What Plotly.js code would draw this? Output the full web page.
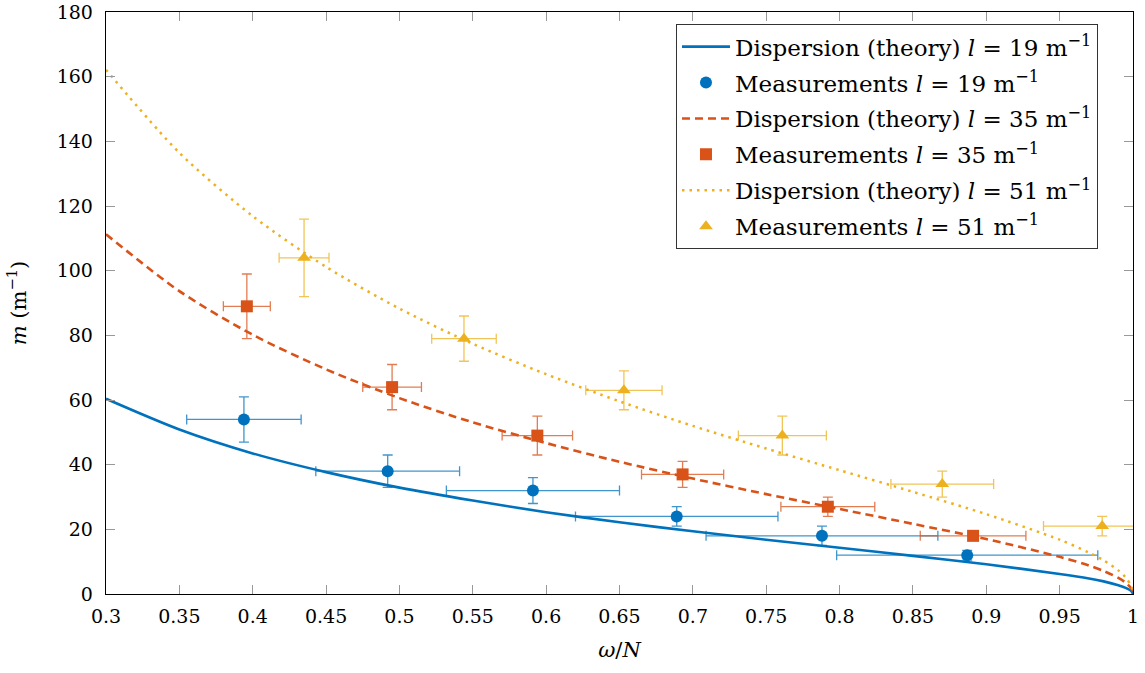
<!DOCTYPE html>
<html>
<head>
<meta charset="utf-8">
<script src="https://cdn.plot.ly/plotly-3.0.1.min.js"></script>
<style>html,body{margin:0;padding:0;background:#fff;}#chart{width:1145px;height:673px;}</style>
</head>
<body>
<div id="chart"></div>
<script>
// Theory curves
const xTheory = [0.30, 0.35, 0.40, 0.45, 0.50, 0.55, 0.60, 0.65, 0.70, 0.75, 0.80, 0.85, 0.90, 0.95, 0.97, 0.98, 0.99, 0.995, 0.999, 1.0];
const theory19 = [60.4, 50.9, 43.5, 37.7, 32.9, 28.9, 25.3, 22.2, 19.4, 16.8, 14.3, 11.8, 9.2, 6.2, 4.8, 3.9, 2.7, 1.9, 0.85, 0];
const theory35 = [111.3, 93.7, 80.2, 69.5, 60.6, 53.1, 46.7, 40.9, 35.7, 30.9, 26.3, 21.7, 17.0, 11.5, 8.8, 7.1, 5.0, 3.5, 1.6, 0];
const theory51 = [162.2, 136.5, 116.9, 101.2, 88.3, 77.4, 68.0, 59.6, 52.0, 45.0, 38.3, 31.6, 24.7, 16.8, 12.8, 10.4, 7.3, 5.1, 2.3, 0];

// Measurements l = 19
const meas19X = [0.394, 0.492, 0.591, 0.689, 0.788, 0.887];
const meas19Y = [54, 38, 32, 24, 18, 12];
const meas19Xerr = [0.039, 0.049, 0.059, 0.069, 0.079, 0.089];
const meas19Yerr = [7, 5, 4, 3, 3, 1.5];

// Measurements l = 35
const meas35X = [0.396, 0.495, 0.594, 0.693, 0.792, 0.891];
const meas35Y = [89, 64, 49, 37, 27, 18];
const meas35Xerr = [0.016, 0.020, 0.024, 0.028, 0.032, 0.036];
const meas35Yerr = [10, 7, 6, 4, 3, 1.5];

// Measurements l = 51
const meas51X = [0.435, 0.544, 0.653, 0.761, 0.870, 0.979];
const meas51Y = [104, 79, 63, 49, 34, 21];
const meas51Xerr = [0.017, 0.022, 0.026, 0.030, 0.035, 0.040];
const meas51Yerr = [12, 7, 6, 6, 4, 3];

const xTicks = [0.3, 0.35, 0.4, 0.45, 0.5, 0.55, 0.6, 0.65, 0.7, 0.75, 0.8, 0.85, 0.9, 0.95, 1];
const xTickText = ['0.3', '0.35', '0.4', '0.45', '0.5', '0.55', '0.6', '0.65', '0.7', '0.75', '0.8', '0.85', '0.9', '0.95', '1'];
const yTicks = [0, 20, 40, 60, 80, 100, 120, 140, 160, 180];
const yTickText = ['0', '20', '40', '60', '80', '100', '120', '140', '160', '180'];

const blue = '#0072BD', orange = '#D95319', yellow = '#EDB120';
const FONT = 'DejaVu Serif';

function theory(x, y, color, dash, width, name, grp) {
  return {x: x, y: y, type: 'scatter', mode: 'lines', name: name, legendgroup: grp,
    line: {color: color, width: width, dash: dash, shape: 'spline', smoothing: 0.8}};
}
function meas(x, y, ex, ey, color, symbol, name, grp) {
  const ec = color + 'C0';
  return {x: x, y: y, type: 'scatter', mode: 'markers', name: name, legendgroup: grp,
    marker: {color: color, symbol: symbol, size: 12},
    error_x: {type: 'data', array: ex, visible: true, color: ec, thickness: 1.3, width: 5},
    error_y: {type: 'data', array: ey, visible: true, color: ec, thickness: 1.3, width: 5}};
}

const traces = [
  theory(xTheory, theory19, blue, 'solid', 2.6, 'Dispersion (theory) <i>l</i> = 19 m<sup>−1</sup>', 'a'),
  meas(meas19X, meas19Y, meas19Xerr, meas19Yerr, blue, 'circle', 'Measurements <i>l</i> = 19 m<sup>−1</sup>', 'b'),
  theory(xTheory, theory35, orange, '8px,5px', 2.6, 'Dispersion (theory) <i>l</i> = 35 m<sup>−1</sup>', 'c'),
  meas(meas35X, meas35Y, meas35Xerr, meas35Yerr, orange, 'square', 'Measurements <i>l</i> = 35 m<sup>−1</sup>', 'd'),
  theory(xTheory, theory51, yellow, '2.5px,5px', 2.5, 'Dispersion (theory) <i>l</i> = 51 m<sup>−1</sup>', 'e'),
  meas(meas51X, meas51Y, meas51Xerr, meas51Yerr, yellow, 'triangle-up', 'Measurements <i>l</i> = 51 m<sup>−1</sup>', 'f')
];

const axisCommon = {
  showgrid: false, zeroline: false, showline: true, linecolor: '#000', linewidth: 1.3,
  mirror: 'ticks', ticks: 'inside', ticklen: 9, tickcolor: '#999', tickwidth: 1,
  tickfont: {family: FONT, size: 19, color: '#000'}
};

const layout = {
  width: 1145, height: 673,
  margin: {l: 106, r: 12, t: 12, b: 79},
  paper_bgcolor: '#fff', plot_bgcolor: '#fff',
  font: {family: FONT, color: '#000', size: 19},
  showlegend: true,
  xaxis: Object.assign({}, axisCommon, {
    range: [0.3, 1], tickvals: xTicks, ticktext: xTickText, ticklabelstandoff: 5,
    title: {text: '<i>ω</i>/<i>N</i>', font: {family: FONT, size: 21}, standoff: 16}
  }),
  yaxis: Object.assign({}, axisCommon, {
    range: [0, 180.05], tickvals: yTicks, ticktext: yTickText, ticklabelstandoff: 8,
    title: {text: '<i>m</i> (m<sup>−1</sup>)', font: {family: FONT, size: 21}, standoff: 24}
  }),
  legend: {
    x: 0.555, y: 0.979, xanchor: 'left', yanchor: 'top',
    bgcolor: '#fff', bordercolor: '#333', borderwidth: 1,
    font: {family: FONT, size: 23, color: '#000'},
    traceorder: 'grouped', tracegroupgap: 3, itemwidth: 48
  }
};

Plotly.newPlot('chart', traces, layout, {displayModeBar: false, staticPlot: true});
</script>
</body>
</html>
